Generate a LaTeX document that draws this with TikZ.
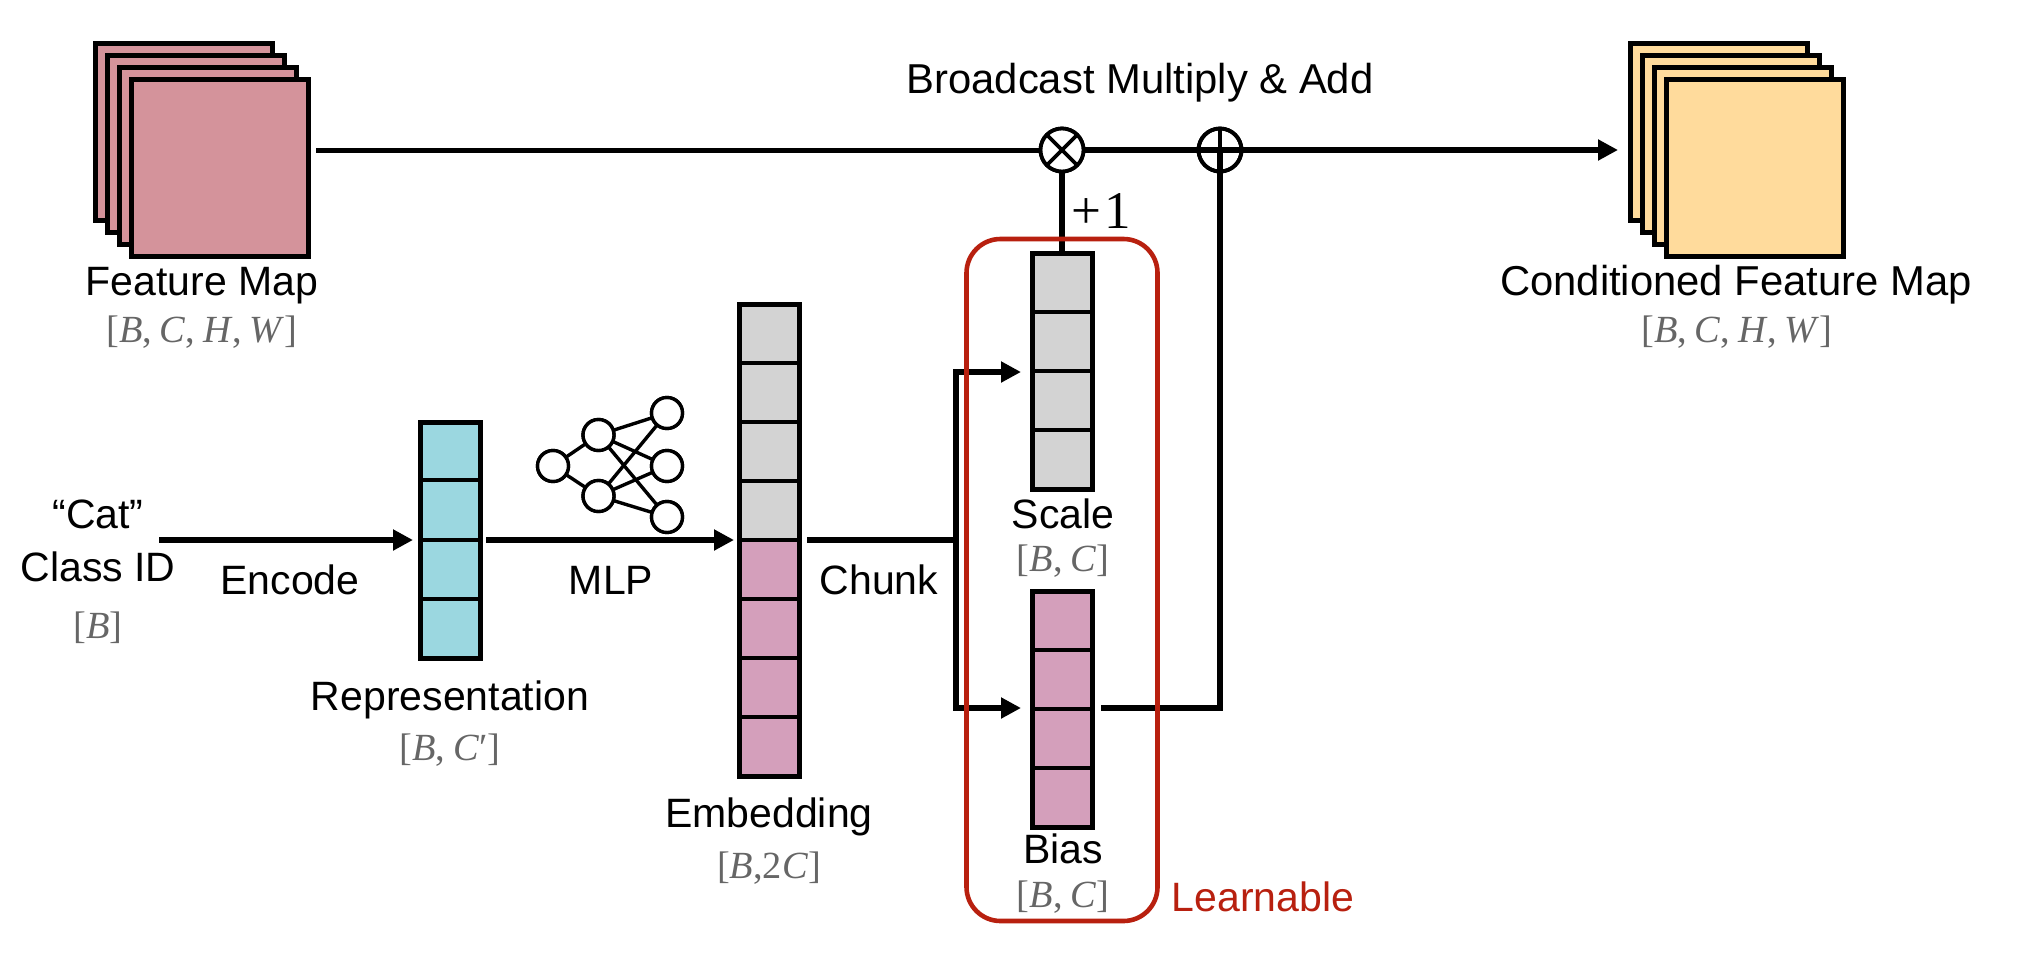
\documentclass[tikz,border=0pt]{standalone}
\usepackage{fontspec}
\setmainfont{Liberation Sans}
\newfontfamily\mathserif{Liberation Serif}
\usetikzlibrary{arrows.meta}
\definecolor{mapred}{HTML}{D4939B}
\definecolor{maporange}{HTML}{FFDB9C}
\definecolor{cellteal}{HTML}{9BD7E0}
\definecolor{cellgrey}{HTML}{D3D3D3}
\definecolor{cellpink}{HTML}{D49FBB}
\definecolor{learnred}{HTML}{B8200F}
\definecolor{dimgrey}{HTML}{666666}
\newcommand{\dimtext}[1]{{\mathserif\fontsize{19.2}{22}\selectfont\color{dimgrey}#1}}
\newcommand{\vb}{\textit{B}}
\newcommand{\vc}{\textit{C}}
\newcommand{\sep}{,\hspace{0.2em}}
\tikzset{
  lbl/.style={anchor=base,inner sep=0pt,outer sep=0pt,font=\fontsize{20.5}{24}\selectfont},
  widelbl/.style={lbl,font=\fontsize{20.9}{24}\selectfont},
  dimlbl/.style={anchor=base,inner sep=0pt,outer sep=0pt},
  mapbox/.style={draw=black,line width=2.5pt,minimum size=88.5pt,inner sep=0pt,outer sep=0pt},
  column/.style={draw=black,line width=2.5pt,minimum width=30pt,minimum height=118pt,inner sep=0pt,outer sep=0pt},
  divider/.style={draw=black,line width=2.3pt},
  conn/.style={draw=black,line width=2.8pt},
  arrowconn/.style={conn,-{Triangle[length=10pt,width=10pt]}},
  opnode/.style={circle,draw=black,line width=1.9pt,fill=white,minimum size=21.5pt,inner sep=0pt,outer sep=0pt},
  opline/.style={draw=black,line width=1.8pt},
  neuron/.style={circle,draw=black,line width=1.7pt,fill=white,minimum size=15.5pt,inner sep=0pt,outer sep=0pt},
  synapse/.style={draw=black,line width=1.7pt},
  learnbox/.style={draw=learnred,line width=2.3pt,line join=round,rounded corners=17pt,inner sep=0pt,outer sep=0pt}
}
\begin{document}
\begin{tikzpicture}[x=0.5pt,y=-0.5pt]
\useasboundingbox (0,0) rectangle (2033,953);
% feature stacks
\foreach \i/\x/\y in {1/184/132,2/196/144,3/208/156,4/220/168}{
  \node[mapbox,fill=mapred] (fmap\i) at (\x,\y) {};
}
\foreach \i/\x/\y in {1/1718.5/132,2/1730.5/144,3/1742.5/156,4/1754.5/168}{
  \node[mapbox,fill=maporange] (cmap\i) at (\x,\y) {};
}
% columns
\node[column,fill=cellteal] (repr) at (450,540) {};
\foreach \y in {480,540,599}{\draw[divider] (repr.west |- 0,\y) -- (repr.east |- 0,\y);}
\node[column,minimum height=236pt,fill=cellgrey] (emb) at (769,540) {};
\fill[cellpink] (emb.west) rectangle (emb.south east);
\draw[black,line width=2.5pt] (emb.north west) rectangle (emb.south east);
\foreach \y in {363,422,481,540,599,658,717}{\draw[divider] (emb.west |- 0,\y) -- (emb.east |- 0,\y);}
\node[column,fill=cellgrey] (scalebox) at (1062,371) {};
\foreach \y in {312,371,430}{\draw[divider] (scalebox.west |- 0,\y) -- (scalebox.east |- 0,\y);}
\node[column,fill=cellpink] (biasbox) at (1062,709) {};
\foreach \y in {650,709,768}{\draw[divider] (biasbox.west |- 0,\y) -- (biasbox.east |- 0,\y);}
% free ends and junctions
\coordinate (fmapout) at (316,150);
\coordinate (cmapin) at (1618,150);
\coordinate (encstart) at (159,540);
\coordinate (mlpstart) at (486,540);
\coordinate (chunkstart) at (807,540);
\coordinate (chunkmid) at (956,540);
\coordinate (chunktop) at (956,372);
\coordinate (chunkbot) at (956,708);
\coordinate (scalein) at (1021,372);
\coordinate (biasin) at (1021,708);
\coordinate (biasout) at (1101,708);
\coordinate (biascorner) at (1220,708);
\coordinate (mlptip) at (734,540);
\coordinate (reprtip) at (413,540);
% operators' positions
\node[opnode] (mul) at (1062,150) {};
\node[opnode,fill=none] (add) at (1220,150) {};
% connectors
\draw[conn,line width=2.5pt] (fmapout) -- (mul);
\draw[arrowconn] (mul) -- (cmapin);
\draw[conn] (mul) -- (scalebox.north);
\draw[conn] (biasout) -- (biascorner) -- (add.center);
\draw[arrowconn] (encstart) -- (reprtip);
\draw[arrowconn] (mlpstart) -- (mlptip);
\draw[conn] (chunkstart) -- (chunkmid);
\draw[arrowconn] (chunkbot) -- (biasin);
\draw[arrowconn,line cap=butt] (chunktop) -- (scalein);
\draw[conn,line cap=rect] (chunktop) -- (chunkbot);
% operators
\node[opnode] (mulface) at (mul) {};
\draw[opline] (mulface.45) -- (mulface.225);
\draw[opline] (mulface.135) -- (mulface.315);
\node[opnode,fill=none] (addface) at (add) {};
\draw[opline] (addface.north) -- (addface.center);
% MLP icon
\node[neuron] (n0) at (553,466) {};
\node[neuron] (n1) at (598.5,435) {};
\node[neuron] (n2) at (598.5,496) {};
\node[neuron] (n3) at (667,413) {};
\node[neuron] (n4) at (667,466) {};
\node[neuron] (n5) at (667,517) {};
\foreach \a/\b in {n0/n1,n0/n2,n1/n3,n1/n4,n1/n5,n2/n3,n2/n4,n2/n5}{\draw[synapse] (\a) -- (\b);}
\foreach \n/\x/\y in {n0/553/466,n1/598.5/435,n2/598.5/496,n3/667/413,n4/667/466,n5/667/517}{\node[neuron] at (\x,\y) {};}
% learnable box
\node[learnbox,minimum width=95.5pt,minimum height=341pt] (lbox) at (1062,580) {};
% labels
\node[lbl] (tfmap) at (202,295) {Feature Map};
\node[dimlbl] (dfmap) at (202,342) {\dimtext{[\vb\sep\vc\sep\textit{H}\sep\textit{W}]}};
\node[widelbl] (tcmap) at (1736,295) {Conditioned Feature Map};
\node[dimlbl] (dcmap) at (1737,342) {\dimtext{[\vb\sep\vc\sep\textit{H}\sep\textit{W}]}};
\node[widelbl] (tbroad) at (1140,93) {Broadcast Multiply \& Add};
\node[dimlbl] (tplus) at (1101,228) {{\mathserif\fontsize{26.5}{28}\selectfont +\hspace{0.06em}1}};
\node[lbl] (tcat) at (98,528) {“Cat”};
\node[lbl] (tclass) at (98,581) {Class ID};
\node[dimlbl] (dclass) at (98,638) {\dimtext{[\vb]}};
\node[lbl] (tenc) at (290,594) {Encode};
\node[lbl] (tmlp) at (611,594) {MLP};
\node[lbl] (trep) at (450,710) {Representation};
\node[dimlbl] (drep) at (450,760) {\dimtext{[\vb\sep\vc′]}};
\node[lbl] (temb) at (769,827) {Embedding};
\node[dimlbl] (demb) at (769,878) {\dimtext{[\vb,2\vc]}};
\node[lbl] (tchunk) at (879,594) {Chunk};
\node[lbl] (tscale) at (1063,528) {Scale};
\node[dimlbl] (dscale) at (1063,571) {\dimtext{[\vb\sep\vc]}};
\node[lbl] (tbias) at (1063,863) {Bias};
\node[dimlbl] (dbias) at (1063,907) {\dimtext{[\vb\sep\vc]}};
\node[lbl,text=learnred] (tlearn) at (1263,911) {Learnable};
\end{tikzpicture}
\end{document}
